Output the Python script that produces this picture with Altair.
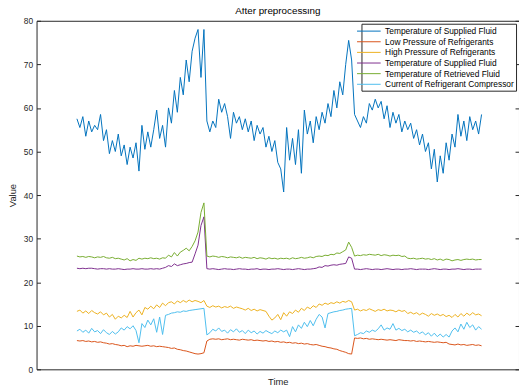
import altair as alt
import pandas as pd

series_names = [
    "Temperature of Supplied Fluid",
    "Low Pressure of Refrigerants",
    "High Pressure of Refrigerants",
    "Temperature of Supplied Fluid ",
    "Temperature of Retrieved Fluid",
    "Current of Refrigerant Compressor",
]
colors = ["#0072BD", "#D95319", "#EDB120", "#7E2F8E", "#77AC30", "#4DBEEE"]
y_ticks = [0, 10, 20, 30, 40, 50, 60, 70, 80]

supply_temp = [
    57.5, 55.5, 58, 53.5, 57, 54.5, 56, 55, 58.5, 52.5, 55, 49.5, 52.5, 50, 54, 49, 51.5, 47, 51, 48.5,
    52, 45.5, 56, 50.5, 54.5, 51, 55, 59.5, 53, 56, 51,
    60, 56.5, 64, 59, 67, 63, 71, 66, 73, 76, 78, 67, 78,
    57, 54.5, 57, 55.5, 62, 59, 61, 58, 53, 59, 56.5, 58, 55, 57.5, 54.5, 57, 52.5, 56, 54, 55.5,
    51, 53.5, 50, 52.5, 47.5,
    46, 40.7, 55.5, 48, 53, 47, 55, 45, 59.5, 54, 57, 52, 58, 55, 59, 56.5, 61, 58, 64, 60,
    66, 63, 70, 75.5, 71,
    58.5, 57, 55.5, 58, 56.5, 61, 59.5, 62, 60, 61.5, 57.5, 60.5, 55.5, 59, 56.5, 58.5, 54.5, 57, 55, 56.5,
    53, 55, 51.5, 54, 50, 52, 46, 50.5, 43, 49, 45, 52, 48, 54, 51, 58.5, 53.5, 57, 52.5, 58,
    55, 57, 54, 58.5,
]

low_pressure = [
    6.6, 6.5, 6.6, 6.4, 6.5, 6.3, 6.4, 6.2, 6.3, 6.1,
    6.0, 5.8, 5.9, 5.7, 5.6, 5.4, 5.5,
    5.2, 5.4, 5.3, 5.5, 5.4, 5.3, 5.4, 5.5, 5.3, 5.4, 5.2, 5.3, 5.2,
    5.1, 5.0, 4.8, 4.9, 4.6, 4.5, 4.3, 4.2, 4.0, 3.8,
    3.6, 3.5, 3.6, 3.8,
    6.5,
    6.9, 7.0, 6.9, 7.0, 6.8, 6.9, 7.0, 6.8, 6.9, 6.8, 6.7, 6.9, 6.8, 6.7, 6.8, 6.6,
    6.7, 6.6, 6.5, 6.6, 6.4, 6.5, 6.3, 6.4, 6.2, 6.3,
    6.1, 6.2, 6.0, 6.1, 5.9, 6.0, 5.8, 5.9, 5.7, 5.6, 5.7,
    5.5, 5.3, 5.2, 5.0, 4.9, 4.7, 4.6, 4.3, 4.1, 3.9, 3.6, 3.5,
    7.2,
    7.1, 7.2, 7.0, 7.1, 6.9, 7.0, 6.9, 6.8, 6.9, 6.8, 6.7, 6.8, 6.7, 6.6, 6.8, 6.7, 6.6,
    6.6, 6.5, 6.6, 6.4, 6.5, 6.4, 6.3, 6.4, 6.3, 6.2, 6.3, 6.2, 6.1, 6.2,
    5.8, 5.7, 5.6, 5.8, 5.6, 5.7, 5.5, 5.6, 5.7, 5.5, 5.6, 5.4,
]

high_pressure = [
    13.3, 13.6, 12.9, 13.4, 12.8, 13.5, 13.0, 12.7, 13.2,
    12.5, 12.9, 12.0, 12.6, 11.5, 12.2, 11.8, 12.4,
    11.9, 13.3, 12.0, 13.0,
    13.6, 12.5, 14.2, 13.8, 14.5, 13.9,
    14.8, 14.2, 15.2, 14.6, 15.3,
    15.5, 15.0, 15.7, 15.3, 15.8, 15.4, 15.9, 15.5, 15.8, 15.6, 15.3, 15.8,
    14.5,
    14.2, 14.6, 14.3, 14.5, 14.1, 14.4, 14.2, 14.5, 14.0, 14.3, 14.1, 13.9,
    13.6, 14.0, 13.5, 13.8, 13.4, 13.7, 13.5, 13.3,
    12.2, 11.3, 11.8, 12.6,
    11.4, 13.0, 12.2,
    13.2, 12.8, 13.6, 13.1, 14.0, 13.5, 14.3, 13.9, 14.6, 14.2,
    15.0, 14.7, 15.2, 14.9, 15.3, 15.1, 15.5, 15.2, 15.6, 15.4, 15.8, 15.5,
    13.6,
    13.8, 13.4, 13.7, 13.5, 13.9, 13.6, 13.3, 13.7, 13.5, 13.8, 13.4, 13.6, 13.5, 13.2, 13.6, 13.3, 13.5,
    12.8, 13.1, 12.7, 13.0, 12.5, 12.9, 12.6, 12.2, 12.8, 12.4, 12.7, 12.3, 12.6, 12.1,
    12.4, 11.9, 12.6, 12.0, 12.8, 12.2, 12.9, 12.4, 13.0, 12.5, 12.7, 12.3,
]

supply_temp_2 = [
    23.2, 23.1, 23.2, 23.1, 23.2, 23.2, 23.1, 23.0, 23.1, 23.1,
    23.0, 23.1, 23.0, 23.0, 23.1, 23.0, 22.9, 23.0, 23.0, 23.1,
    23.0, 23.0, 23.1, 23.0, 23.0, 23.1, 23.0, 23.1, 23.0, 23.2,
    23.4, 23.8, 23.6, 24.2, 23.8, 24.0, 24.2, 24.3, 24.5, 24.6,
    26.5, 28.5, 33.0, 35.0,
    23.1,
    23.0, 23.1, 23.0, 22.9, 23.0, 23.1, 23.0, 23.0, 22.9, 23.0,
    23.1, 23.0, 23.0, 22.9, 23.0, 23.0, 23.1, 22.9, 23.0, 23.0,
    22.9, 23.0, 23.0, 23.1, 23.0, 22.9, 23.0, 23.0, 22.9, 23.0,
    23.1, 23.0, 22.9, 23.0, 23.0, 23.1,
    23.2, 23.5, 23.4, 23.8, 23.7, 23.9, 24.0, 23.9, 24.1, 24.2, 24.3, 25.8, 25.5,
    23.0, 23.0, 22.9, 23.0, 23.1, 23.0, 22.9, 23.0, 23.0, 22.9,
    23.0, 23.1, 23.0, 22.9, 23.0, 23.0, 22.9, 23.0, 23.0, 23.1,
    23.0, 22.9, 23.0, 23.0, 23.0, 22.9, 23.0, 23.1, 23.0, 22.9,
    23.0, 23.0, 22.9, 23.0, 23.0, 23.1, 23.0, 22.9, 23.0, 23.0,
    22.9, 23.0, 23.0, 23.0,
]

retrieved_temp = [
    26.0, 25.8, 25.9, 25.7, 25.9, 25.8, 25.6, 25.8, 25.7, 25.9, 25.6, 25.5, 25.7, 25.4, 25.5,
    25.3, 25.1, 25.4, 24.9, 25.2, 25.0,
    25.5, 25.3, 25.5, 25.4, 25.6, 25.4, 25.5, 25.3, 25.6, 25.5,
    26.2, 25.8, 26.8, 26.0, 26.9,
    27.3, 27.8, 27.2, 28.2,
    29.5, 31.5, 36.0, 38.2,
    26.0,
    25.8, 26.0, 25.9, 25.7, 25.9, 25.8, 25.6, 25.8, 25.7, 25.6,
    25.8, 25.5, 25.7, 25.6, 25.5, 25.7, 25.4, 25.6, 25.5, 25.3,
    25.6, 25.4, 25.5, 25.3, 25.5, 25.4,
    25.5, 25.3, 25.6, 25.4, 25.5, 25.7, 25.5, 25.6, 25.8, 25.6, 25.9,
    26.0, 25.9, 26.2, 26.1, 26.4, 26.3, 26.7, 26.6, 27.0, 27.4, 29.2, 28.0,
    26.0, 26.2, 26.1, 26.3, 26.2, 26.4, 26.3, 26.2, 26.4, 26.1, 26.3, 26.2, 26.0, 26.2, 26.1, 26.2, 25.9, 26.0,
    25.5, 25.4, 25.5, 25.3, 25.4, 25.5, 25.3, 25.4, 25.2, 25.4,
    25.1, 25.3, 25.0, 25.3, 25.2, 24.9, 25.1, 25.2, 25.0, 25.2,
    25.3, 25.2, 25.3, 25.1, 25.2, 25.2,
]

compressor_current = [
    8.8, 9.2, 8.5, 9.0, 8.3, 9.4, 8.6, 8.9, 8.2, 9.1, 8.4, 8.0, 8.7, 8.1, 8.6,
    9.5, 9.0, 9.8, 9.3, 10.0, 8.9,
    6.1,
    10.5, 9.6, 11.3, 10.2, 11.6, 8.5, 12.0, 8.0, 12.4,
    12.6, 12.9, 13.0, 13.2, 13.1, 13.4, 13.3, 13.5, 13.6, 13.7, 13.8, 13.9, 14.0,
    7.9,
    8.4, 9.2, 8.8, 9.5, 8.7, 9.0, 8.3, 9.1, 8.6, 9.3, 8.5, 8.9, 8.2, 9.0, 8.4, 8.8,
    8.1, 8.7, 8.3, 8.9, 8.5, 8.2, 8.8, 8.4, 9.0, 8.6,
    9.0, 7.5, 9.8, 8.6, 10.2, 9.4, 10.8, 9.8, 11.2, 10.0, 11.5, 12.6, 12.0, 9.5, 12.8,
    13.0, 13.2, 13.3, 13.5, 13.6, 13.8, 13.9, 14.0,
    7.7,
    8.0, 8.4, 8.2, 8.8, 8.5, 9.0, 8.7, 9.3, 10.2, 9.0,
    9.5, 9.2, 10.5, 9.0, 9.4, 8.9, 9.2, 8.6, 9.0, 8.5, 8.8,
    8.2, 8.6, 7.9, 8.4, 7.6, 8.3, 7.5, 8.1, 7.4, 8.0,
    7.4, 8.8, 9.5, 8.6, 10.4, 9.2, 10.8, 9.6, 10.2, 9.0, 9.8, 9.2,
]

all_series = [supply_temp, low_pressure, high_pressure, supply_temp_2, retrieved_temp, compressor_current]

rows = []
for name, vals in zip(series_names, all_series):
    for i, v in enumerate(vals):
        rows.append({"Time": i, "Value": v, "Series": name})
df = pd.DataFrame(rows)

FONT = "Liberation Sans"
INK = "#262626"

color_enc = alt.Color(
    "Series:N",
    scale=alt.Scale(domain=series_names, range=colors),
    legend=alt.Legend(
        title=None,
        orient="none",
        legendX=330,
        legendY=3,
        symbolType="M-2.4,0H2.4",
        symbolSize=100,
        symbolStrokeWidth=1,
        labelFont=FONT,
        labelFontSize=8.5,
        labelColor="#000000",
        labelOffset=11,
        rowPadding=0.8,
        padding=2,
        strokeColor=INK,
        fillColor="white",
    ),
)

x_enc = alt.X(
    "Time:Q",
    scale=alt.Scale(domain=[-13.67, 149.67], nice=False, zero=False),
    axis=alt.Axis(labels=False, ticks=False, domain=False, grid=False, title="Time",
                  titlePadding=7, titleFont=FONT, titleFontSize=9.5, titleFontWeight="normal",
                  titleColor=INK),
)
y_enc = alt.Y(
    "Value:Q",
    scale=alt.Scale(domain=[0, 80], nice=False),
    axis=alt.Axis(values=y_ticks, tickSize=0, labelPadding=4, domain=False,
                  grid=True, gridDash=[4, 482, 4], gridColor=INK, gridWidth=1, gridOpacity=1,
                  labelFont=FONT, labelFontSize=8.5, labelColor=INK,
                  title="Value", titlePadding=6, titleFont=FONT, titleFontSize=9.5,
                  titleFontWeight="normal", titleColor=INK),
)

layers = []
for name in series_names:
    layers.append(
        alt.Chart(df[df["Series"] == name])
        .mark_line(strokeWidth=1, clip=True)
        .encode(x=x_enc, y=y_enc, color=color_enc)
    )

chart = (
    alt.layer(*layers)
    .properties(
        width=490,
        height=354,
        title=alt.TitleParams("After preprocessing", font=FONT, fontSize=10,
                              fontWeight="normal", color="#000000", offset=0.5),
        padding={"left": 29, "top": 10, "right": 0, "bottom": 17},
        autosize=alt.AutoSizeParams(type="none"),
    )
    .configure_view(stroke=INK, strokeWidth=1)
)

chart.save("out.html", embed_options={"renderer": "svg", "actions": False})
